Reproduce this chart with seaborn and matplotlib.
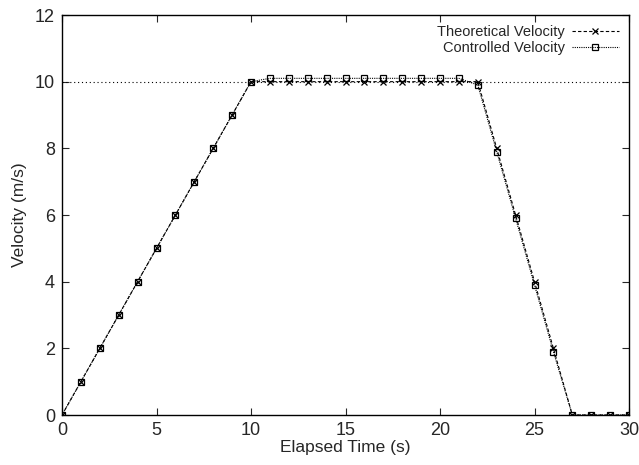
import pandas as pd
import matplotlib
matplotlib.use("Agg")
import matplotlib.pyplot as plt
import seaborn as sns

sns.set_style("ticks")
plt.rcParams['font.family'] = ['Liberation Sans', 'DejaVu Sans']

time_s = list(range(0, 31))
theoretical = [0, 1, 2, 3, 4, 5, 6, 7, 8, 9, 10,
               10, 10, 10, 10, 10, 10, 10, 10, 10, 10, 10,
               10, 8, 6, 4, 2, 0, 0, 0, 0]
controlled = [0, 1, 2, 3, 4, 5, 6, 7, 8, 9, 10,
              10.1, 10.1, 10.1, 10.1, 10.1, 10.1, 10.1, 10.1, 10.1, 10.1, 10.1,
              9.9, 7.9, 5.9, 3.9, 1.9, 0, 0, 0, 0]

df = pd.DataFrame({"time": time_s, "Theoretical Velocity": theoretical,
                   "Controlled Velocity": controlled})

fig = plt.figure(figsize=(6.39, 4.65), dpi=100)
ax = fig.add_axes([62 / 639, 1 - 415 / 465, 567 / 639, 400 / 465])

ax.axhline(10, color="black", lw=0.8, ls=(0, (1, 2.5)), zorder=1)

sns.lineplot(data=df, x="time", y="Theoretical Velocity", ax=ax, color="black",
             lw=0.8, linestyle=(0, (3, 2)), marker="x", markersize=5,
             markeredgecolor="black", markeredgewidth=0.9,
             label="Theoretical Velocity")
sns.lineplot(data=df, x="time", y="Controlled Velocity", ax=ax, color="black",
             lw=0.8, linestyle=(0, (1, 1)), marker="s", markersize=5,
             markerfacecolor="none", markeredgecolor="black",
             markeredgewidth=0.9, label="Controlled Velocity")

ax.set_xlim(0, 30)
ax.set_ylim(0, 12)
ax.set_xticks(range(0, 31, 5))
ax.set_yticks(range(0, 13, 2))
ax.set_xlabel("Elapsed Time (s)", fontsize=12.5, labelpad=1)
ax.set_ylabel("Velocity (m/s)", fontsize=12.5, labelpad=6)
ax.tick_params(direction="in", top=True, right=True, length=5, width=0.8,
               labelsize=13, pad=5)
for sp in ax.spines.values():
    sp.set_visible(True)
    sp.set_linewidth(1.0)
    sp.set_color("black")

ax.legend(loc="upper right", frameon=False, markerfirst=False, fontsize=10.5,
          handlelength=3.2, handletextpad=0.5, borderaxespad=0.3,
          labelspacing=0.15)

fig.savefig("out.png", dpi=100)
